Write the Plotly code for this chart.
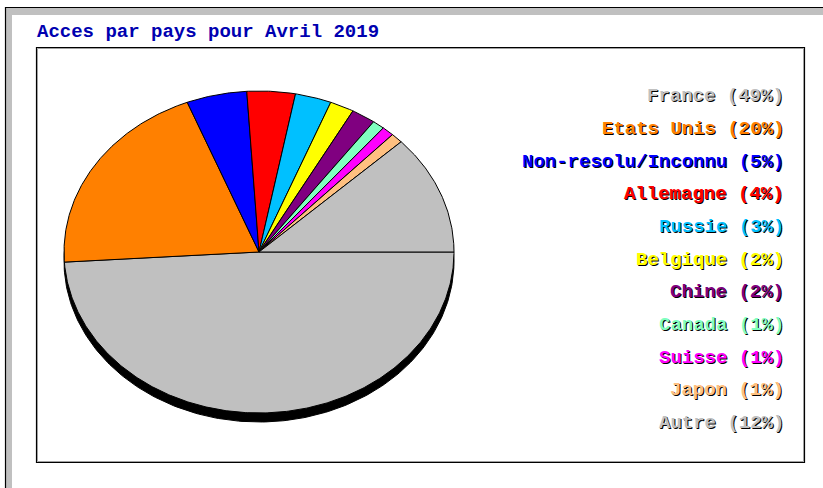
import numpy as np
import plotly.graph_objects as go

# ---- data ----
countries = ["France", "Etats Unis", "Non-resolu/Inconnu", "Allemagne", "Russie",
             "Belgique", "Chine", "Canada", "Suisse", "Japon", "Autre"]
percents = [49, 20, 5, 4, 3, 2, 2, 1, 1, 1, 12]
colors = ["#c0c0c0", "#ff8000", "#0000ff", "#ff0000", "#00c0ff", "#ffff00",
          "#800080", "#80ffc0", "#ff00ff", "#ffc080", "#c0c0c0"]
title_text = "Acces par pays pour Avril 2019"

# ---- layout constants (pixels) ----
W, H = 823, 488
CX, CY, RX, RY = 259, 252, 195, 161
SHADOW_DY = 9
FONT = "Liberation Mono, DejaVu Sans Mono, monospace"


def px(x):
    return x / W


def py(y):
    return 1 - y / H


# axes: unit ellipse -> RX x RY pixels
xr = (-1.03, 1.03)
yr = (-1.12, 1.03)
x_dom = [px(CX + xr[0] * RX), px(CX + xr[1] * RX)]
y_dom = [py(CY - yr[0] * RY), py(CY - yr[1] * RY)]

fig = go.Figure()

# shadow (depth) of the pie
t = np.linspace(0, 2 * np.pi, 361)
sdy = SHADOW_DY / RY
fig.add_trace(go.Scatter(x=np.cos(t), y=np.sin(t) - sdy, mode="lines",
                         fill="toself", fillcolor="#000000",
                         line=dict(color="#000000", width=1),
                         hoverinfo="skip", showlegend=False))

# slices, clockwise on screen starting at 3 o'clock
total = float(sum(percents))
start = 0.0
for name, val, col in zip(countries, percents, colors):
    a0 = start / total * 2 * np.pi
    a1 = (start + val) / total * 2 * np.pi
    n = max(4, int((a1 - a0) / (2 * np.pi) * 720))
    th = np.linspace(a0, a1, n)
    xs = np.concatenate([[0], np.cos(th), [0]])
    ys = np.concatenate([[0], -np.sin(th), [0]])
    fig.add_trace(go.Scatter(x=xs, y=ys, mode="lines", fill="toself",
                             fillcolor=col, line=dict(color="#000000", width=1),
                             name=name, hoveron="fills",
                             text=f"{name} ({val}%)", hoverinfo="text",
                             showlegend=False))
    start += val

annotations = []
# title
annotations.append(dict(x=px(35), y=py(32), xref="paper", yref="paper",
                        xanchor="left", yanchor="middle", showarrow=False,
                        text=title_text,
                        font=dict(family=FONT, size=19, color="#0000b0",
                                  weight="bold")))
# legend labels
for i, (name, val, col) in enumerate(zip(countries, percents, colors)):
    ypix = 96.5 + 32.65 * i
    annotations.append(dict(x=px(786), y=py(ypix), xref="paper", yref="paper",
                            xanchor="right", yanchor="middle", showarrow=False,
                            text=f"{name} ({val}%)",
                            font=dict(family=FONT, size=19, color=col,
                                      weight="bold",
                                      shadow="1px 1px 0px #000000")))

shapes = [
    # outer gray bevel
    dict(type="rect", xref="paper", yref="paper", x0=px(6), x1=px(W + 2),
         y0=py(15), y1=py(8), fillcolor="#c0c0c0", line=dict(width=0), layer="below"),
    dict(type="rect", xref="paper", yref="paper", x0=px(6), x1=px(12),
         y0=py(H + 2), y1=py(8), fillcolor="#c0c0c0", line=dict(width=0), layer="below"),
    # outer black lines
    dict(type="line", xref="paper", yref="paper", x0=px(5), x1=px(W + 2),
         y0=py(7.5), y1=py(7.5), line=dict(color="#000000", width=1.2)),
    dict(type="line", xref="paper", yref="paper", x0=px(5.5), x1=px(5.5),
         y0=py(7), y1=py(H + 2), line=dict(color="#000000", width=1.2)),
    # inner box
    dict(type="rect", xref="paper", yref="paper", x0=px(36.5), x1=px(804.5),
         y0=py(462.5), y1=py(47.5), line=dict(color="#000000", width=1.2)),
    dict(type="rect", xref="paper", yref="paper", x0=px(37.5), x1=px(803.5),
         y0=py(461.5), y1=py(48.5), line=dict(color="#a0a0a0", width=1)),
]

fig.update_layout(
    width=W, height=H, autosize=False,
    margin=dict(l=0, r=0, t=0, b=0),
    paper_bgcolor="#ffffff", plot_bgcolor="rgba(0,0,0,0)",
    xaxis=dict(domain=x_dom, range=list(xr), visible=False, fixedrange=True),
    yaxis=dict(domain=y_dom, range=list(yr), visible=False, fixedrange=True),
    annotations=annotations, shapes=shapes, showlegend=False,
)

fig.write_html("out.html",
               config={"displayModeBar": False},
               post_script="document.body.style.margin='0';"
                           "document.body.style.overflow='hidden';")
